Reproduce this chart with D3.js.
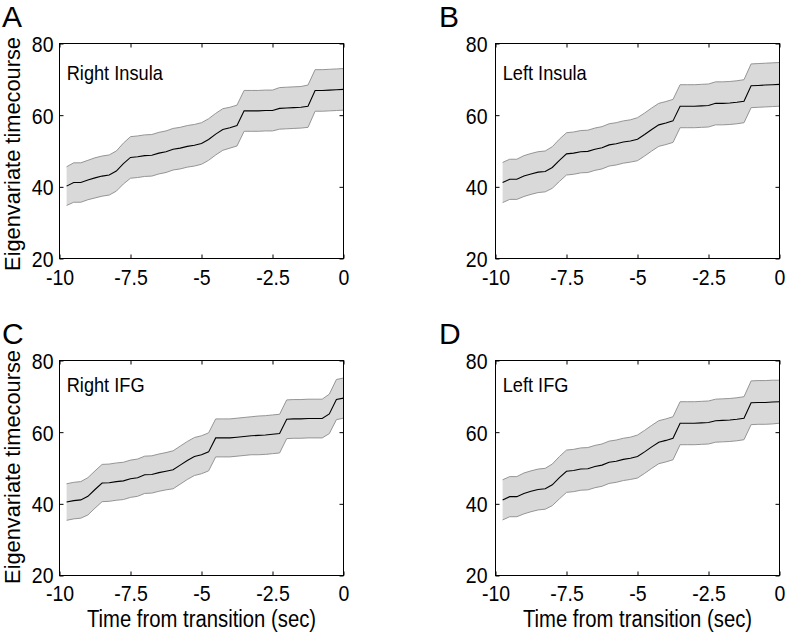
<!DOCTYPE html>
<html><head><meta charset="utf-8">
<script src="https://cdn.jsdelivr.net/npm/d3@7"></script>
<style>
body{margin:0;background:#fff}
text{font-family:"Liberation Sans",Arial,Helvetica,sans-serif;fill:#000}
</style>
</head><body>
<svg id="chart" width="787" height="637"></svg>
<script>
// ---- data ----
const times = [-9.75,-9.5,-9.25,-9,-8.75,-8.5,-8.25,-8,-7.75,-7.5,-7.25,-7,-6.75,-6.5,-6.25,-6,-5.75,-5.5,-5.25,-5,
               -4.75,-4.5,-4.25,-4,-3.75,-3.5,-3.25,-3,-2.75,-2.5,-2.25,-2,-1.75,-1.5,-1.25,-1,-0.75,-0.5,-0.25,0];

const meanRightInsula = [40.2,41.2,41.2,41.9,42.5,43.0,43.3,44.4,46.5,48.2,48.4,48.7,48.8,49.4,49.8,50.5,50.8,51.3,51.6,52.1,
                         53.2,54.7,56.0,56.5,57.1,61.2,61.2,61.2,61.3,61.3,61.9,62.0,62.1,62.2,62.5,66.9,66.9,67.0,67.1,67.2];
const errRightInsula  = [5.4,5.5,5.5,5.5,5.6,5.6,5.6,5.6,5.7,5.8,5.8,5.8,5.8,5.8,5.8,5.8,5.8,5.8,5.8,5.8,
                         5.8,5.8,5.8,5.7,5.7,5.7,5.7,5.7,5.7,5.7,5.8,5.8,5.8,5.8,5.9,5.8,5.8,5.8,5.8,5.8];

const meanLeftInsula  = [41.2,42.1,42.1,43.0,43.6,44.1,44.3,45.4,47.4,49.2,49.4,49.8,49.9,50.5,50.9,51.7,52.0,52.5,52.8,53.3,
                         54.6,56.0,57.3,57.8,58.4,62.5,62.5,62.5,62.6,62.7,63.3,63.3,63.4,63.6,63.9,68.2,68.3,68.4,68.5,68.6];
const errLeftInsula   = [5.6,5.6,5.6,5.7,5.7,5.7,5.7,5.8,5.9,5.9,5.9,5.9,5.9,5.9,5.9,5.9,5.9,5.9,5.9,6.0,
                         6.0,6.0,6.0,6.0,6.0,6.0,6.0,6.0,6.0,6.0,6.0,6.0,6.0,6.0,6.0,6.1,6.1,6.1,6.1,6.1];

const meanRightIFG    = [40.5,40.9,41.1,42.1,44.0,45.8,45.9,46.2,46.4,47.0,47.3,48.1,48.2,48.7,49.1,49.5,50.8,52.1,53.2,53.7,
                         54.5,58.4,58.4,58.4,58.6,58.8,59.0,59.1,59.2,59.4,59.6,63.6,63.7,63.7,63.8,63.8,63.8,65.1,69.1,69.5];
const errRightIFG     = [5.1,5.1,5.1,5.2,5.2,5.2,5.2,5.2,5.2,5.2,5.2,5.2,5.2,5.2,5.2,5.3,5.3,5.3,5.3,5.3,
                         5.3,5.3,5.3,5.3,5.3,5.3,5.3,5.4,5.4,5.4,5.4,5.4,5.4,5.4,5.4,5.4,5.4,5.5,5.6,5.6];

const meanLeftIFG     = [41.1,42.0,42.0,42.9,43.5,44.0,44.2,45.3,47.3,49.1,49.3,49.7,49.8,50.4,50.8,51.6,51.9,52.4,52.7,53.2,
                         54.5,55.9,57.2,57.7,58.3,62.5,62.5,62.5,62.6,62.7,63.2,63.3,63.4,63.6,63.9,68.2,68.3,68.3,68.4,68.5];
const errLeftIFG      = [5.6,5.6,5.6,5.7,5.7,5.7,5.7,5.8,5.9,5.9,5.9,5.9,5.9,5.9,5.9,5.9,5.9,5.9,5.9,6.0,
                         6.0,6.0,6.0,6.0,6.0,6.0,6.0,6.0,6.0,6.0,6.0,6.0,6.0,6.0,6.0,6.1,6.1,6.1,6.1,6.0];

const panelLetters = ["A","B","C","D"];
const regionNames  = ["Right Insula","Left Insula","Right IFG","Left IFG"];
const xTicks = [-10,-7.5,-5,-2.5,0];
const xTickLabels = ["-10","-7.5","-5","-2.5","0"];
const yTicks = [20,40,60,80];
const yTickLabels = ["20","40","60","80"];
const xDomain = [-10,0];
const yDomain = [20,80];
const yTitle = "Eigenvariate timecourse";
const xTitle = "Time from transition (sec)";

// ---- layout ----
const panels = [
  {mean:meanRightInsula, err:errRightInsula, l:59.5, r:343.5, t:43.5, b:258.5, row:0, col:0},
  {mean:meanLeftInsula,  err:errLeftInsula,  l:495.5, r:779.5, t:43.5, b:258.5, row:0, col:1},
  {mean:meanRightIFG,    err:errRightIFG,    l:59.5, r:343.5, t:360.5, b:575.5, row:1, col:0},
  {mean:meanLeftIFG,     err:errLeftIFG,     l:495.5, r:779.5, t:360.5, b:575.5, row:1, col:1}
];
const SY = 1.15; // vertical stretch of text
const svg = d3.select("#chart");

panels.forEach((p, i) => {
  const x = d3.scaleLinear().domain(xDomain).range([p.l, p.r]);
  const y = d3.scaleLinear().domain(yDomain).range([p.b, p.t]);
  const g = svg.append("g");
  const pts = times.map((t, k) => ({t, m:p.mean[k], e:p.err[k]}));

  g.append("path").datum(pts)
    .attr("d", d3.area().x(d => x(d.t)).y0(d => y(d.m - d.e)).y1(d => y(d.m + d.e)))
    .attr("fill", "#d9d9d9").attr("stroke", "none");
  [1,-1].forEach(s => {
    g.append("path").datum(pts)
      .attr("d", d3.line().x(d => x(d.t)).y(d => y(d.m + s*d.e)))
      .attr("fill", "none").attr("stroke", "#959595").attr("stroke-width", 1);
  });
  g.append("path").datum(pts)
    .attr("d", d3.line().x(d => x(d.t)).y(d => y(d.m)))
    .attr("fill", "none").attr("stroke", "#000").attr("stroke-width", 1.1);

  // frame
  g.append("rect").attr("x", p.l).attr("y", p.t).attr("width", p.r - p.l).attr("height", p.b - p.t)
    .attr("fill", "none").attr("stroke", "#000").attr("stroke-width", 1);

  const tk = 4;
  const xOff = p.row === 0 ? 26.5 : 25.5;
  const gb = g.append("g").attr("transform", `translate(0,${p.b})`)
    .call(d3.axisBottom(x).tickValues(xTicks).tickSizeInner(-tk).tickSizeOuter(0)
      .tickFormat((d, k) => xTickLabels[k]));
  gb.select(".domain").remove();
  gb.attr("font-size", null).attr("font-family", null);
  gb.selectAll("line").attr("stroke", "#000");
  gb.selectAll("text").attr("y", null).attr("dy", null)
    .attr("transform", `translate(0,${xOff}) scale(1,${SY})`)
    .style("font-size", "19.5px");

  const gt = g.append("g").attr("transform", `translate(0,${p.t})`)
    .call(d3.axisTop(x).tickValues(xTicks).tickSizeInner(-tk).tickSizeOuter(0).tickFormat(""));
  gt.select(".domain").remove();
  gt.selectAll("line").attr("stroke", "#000");

  const gap = p.col === 0 ? 6 : 8;
  const gl = g.append("g").attr("transform", `translate(${p.l},0)`)
    .call(d3.axisLeft(y).tickValues(yTicks).tickSizeInner(-tk).tickSizeOuter(0)
      .tickFormat((d, k) => yTickLabels[k]));
  gl.select(".domain").remove();
  gl.attr("font-size", null).attr("font-family", null);
  gl.selectAll("line").attr("stroke", "#000");
  gl.selectAll("text").attr("x", null).attr("dy", null)
    .attr("transform", d => `translate(${-gap},${d === yDomain[0] && p.row === 1 ? 6.5 : 8}) scale(1,${SY})`)
    .style("font-size", "19.5px");

  const gr = g.append("g").attr("transform", `translate(${p.r},0)`)
    .call(d3.axisRight(y).tickValues(yTicks).tickSizeInner(-tk).tickSizeOuter(0).tickFormat(""));
  gr.select(".domain").remove();
  gr.selectAll("line").attr("stroke", "#000");

  // region label
  const lblY = p.row === 0 ? p.t + 36.7 : p.t + 31.2;
  g.append("text").attr("transform", `translate(${p.l + 7.2},${lblY}) scale(1,${SY})`)
    .style("font-size", "18.2px").text(regionNames[i]);

  // panel letter
  const letterX = p.col === 0 ? 2 : 439;
  const letterY = p.row === 0 ? 26.5 : 344;
  g.append("text").attr("x", letterX).attr("y", letterY)
    .style("font-size", "30px").text(panelLetters[i]);

  // y title (left column)
  if (p.col === 0) {
    const cy = (p.t + p.b) / 2 + (p.row === 0 ? 3 : -1);
    g.append("text").attr("transform", `translate(20,${cy}) rotate(-90)`)
      .attr("text-anchor", "middle").style("font-size", "21.8px").text(yTitle);
  }
  // x title (bottom row)
  if (p.row === 1) {
    g.append("text").attr("transform", `translate(${(p.l + p.r) / 2},627) scale(1,${SY})`)
      .attr("text-anchor", "middle").style("font-size", "20.3px").text(xTitle);
  }
});
</script>
</body></html>
